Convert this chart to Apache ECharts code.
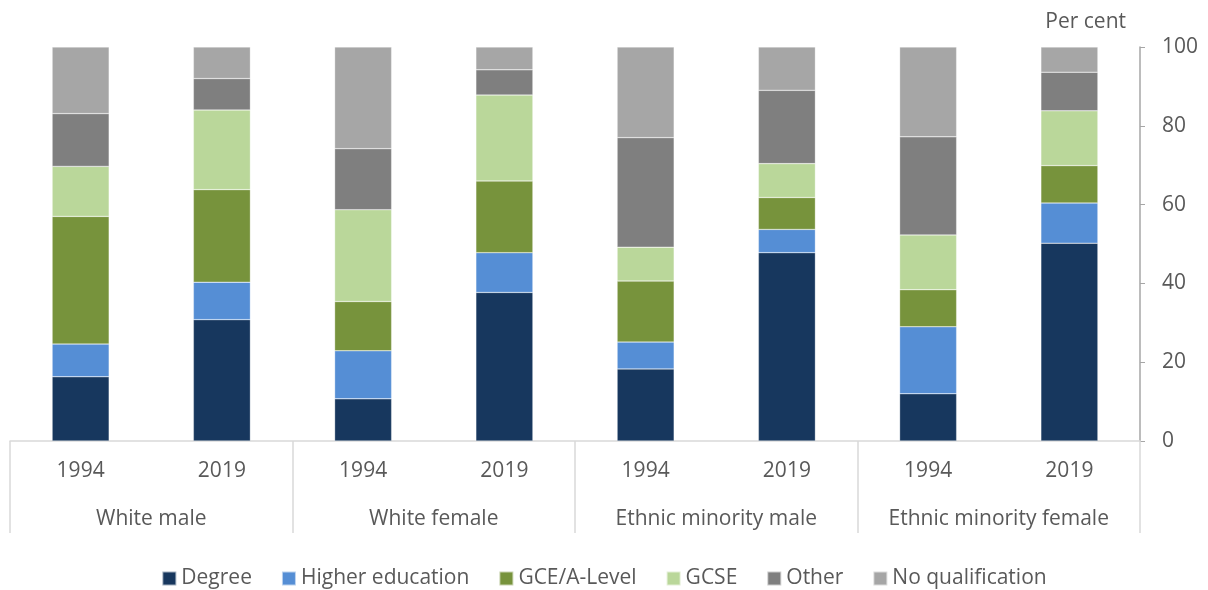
<!DOCTYPE html>
<html>
<head>
<meta charset="utf-8">
<script src="https://cdn.jsdelivr.net/npm/echarts@6/dist/echarts.min.js"></script>
<style>
  html, body { margin: 0; padding: 0; background: #fff; }
  #chart { width: 1208px; height: 590px; }
</style>
</head>
<body>
<div id="chart"></div>
<script>
// categories: two-level x axis (year within group)
const years  = ['1994', '2019', '1994', '2019', '1994', '2019', '1994', '2019'];
const groups = ['White male', 'White female', 'Ethnic minority male', 'Ethnic minority female'];

// per cent, stacked bottom to top
const degree      = [16.3, 30.8, 10.7, 37.7, 18.3, 47.8, 12.0, 50.2];
const higherEd    = [8.3, 9.5, 12.2, 10.1, 6.8, 5.9, 17.0, 10.2];
const gceALevel   = [32.4, 23.5, 12.5, 18.2, 15.5, 8.1, 9.4, 9.5];
const gcse        = [12.7, 20.2, 23.3, 21.8, 8.6, 8.6, 13.9, 13.9];
const other       = [13.4, 8.0, 15.5, 6.4, 27.8, 18.6, 24.9, 9.8];
const noQual      = [16.9, 8.0, 25.8, 5.8, 23.0, 11.0, 22.8, 6.4];

const yTicks = { min: 0, max: 100, interval: 20 };

const FONT = '"Open Sans", Lato, sans-serif';
const TEXT = '#595959';
const FS = 21;

const seriesDefs = [
  { name: 'Degree',           data: degree,    color: '#17375E' },
  { name: 'Higher education', data: higherEd,  color: '#558ED5' },
  { name: 'GCE/A-Level',      data: gceALevel, color: '#77933C' },
  { name: 'GCSE',             data: gcse,      color: '#BAD79A' },
  { name: 'Other',            data: other,     color: '#7F7F7F' },
  { name: 'No qualification', data: noQual,    color: '#A6A6A6' },
];

const chart = echarts.init(document.getElementById('chart'));

chart.setOption({
  backgroundColor: '#fff',
  animation: false,
  textStyle: { fontFamily: FONT },
  title: {
    text: 'Per cent',
    right: 77, top: 7,
    textStyle: { fontFamily: FONT, fontSize: FS, fontWeight: 'normal', color: TEXT },
  },
  grid: { left: 10, right: 68, top: 47, bottom: 149 },
  xAxis: [
    {
      type: 'category',
      data: years,
      position: 'bottom',
      axisLine: { show: true, lineStyle: { color: '#D9D9D9', width: 1.5 } },
      axisTick: { show: false },
      axisLabel: { color: TEXT, fontSize: FS, fontFamily: FONT, margin: 20, interval: 0 },
    },
    {
      type: 'category',
      data: groups,
      position: 'bottom',
      axisLine: { show: false },
      axisTick: { show: true, interval: 0, length: 92, lineStyle: { color: '#D9D9D9', width: 1.5 } },
      axisLabel: { color: TEXT, fontSize: FS, fontFamily: FONT, margin: 68, interval: 0 },
    },
  ],
  yAxis: {
    type: 'value',
    position: 'right',
    min: yTicks.min, max: yTicks.max, interval: yTicks.interval,
    splitLine: { show: false },
    axisLine: { show: true, lineStyle: { color: '#A6A6A6', width: 1.5 } },
    axisTick: { show: true, length: 5, lineStyle: { color: '#A6A6A6' } },
    axisLabel: { color: TEXT, fontSize: FS, fontFamily: FONT, margin: 22 },
  },
  legend: {
    top: 563,
    left: 'center',
    itemWidth: 14, itemHeight: 14,
    itemGap: 29,
    icon: 'rect',
    textStyle: { color: TEXT, fontSize: FS, fontFamily: FONT },
    data: seriesDefs.map(s => s.name),
  },
  series: seriesDefs.map(s => ({
    name: s.name,
    type: 'bar',
    stack: 'total',
    xAxisIndex: 0,
    barWidth: 57,
    data: s.data,
    itemStyle: { color: s.color, borderColor: 'rgba(255,255,255,0.6)', borderWidth: 0.5 },
  })),
});
</script>
</body>
</html>
